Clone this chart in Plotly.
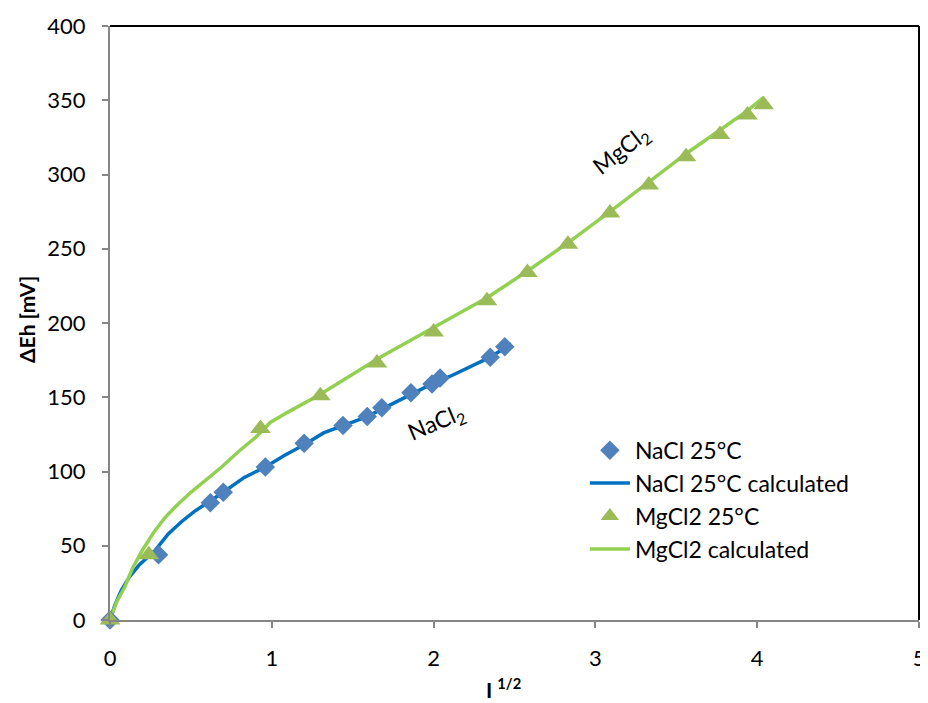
import plotly.graph_objects as go

# Measured data
nacl_x = [0.0, 0.30, 0.62, 0.70, 0.96, 1.20, 1.44, 1.59, 1.68, 1.86, 1.99, 2.04, 2.35, 2.44]
nacl_y = [0.0, 44, 79, 86, 103, 119, 131, 137, 143, 153, 159, 163, 177, 184]

mg_x = [0.0, 0.24, 0.93, 1.30, 1.65, 2.00, 2.33, 2.58, 2.83, 3.09, 3.33, 3.56, 3.77, 3.94, 4.04]
mg_y = [0.0, 44, 129, 151, 173, 194, 215, 234, 253, 274, 293, 312, 327, 340, 347]

# Calculated curves
nacl_calc_x = [0.0, 0.03, 0.07, 0.12, 0.18, 0.28, 0.36, 0.44, 0.52, 0.59, 0.70, 0.83, 0.96, 1.08, 1.20, 1.32, 1.44, 1.59, 1.68, 1.86, 1.99, 2.10, 2.25, 2.35, 2.48]
nacl_calc_y = [0.0, 10, 20, 29, 37, 47, 58, 66, 73, 78, 86, 96, 103, 111, 118, 126, 131, 137, 142, 152, 159, 164, 172, 177, 186]

mg_calc_x = [0.0, 0.04, 0.09, 0.14, 0.20, 0.27, 0.34, 0.42, 0.50, 0.60, 0.69, 0.80, 0.90, 0.99, 1.10, 1.30, 1.45, 1.67, 2.00, 2.33, 2.58, 2.83, 3.09, 3.33, 3.56, 3.77, 3.94, 4.04]
mg_calc_y = [0.0, 12, 22, 35, 47, 59, 69, 78, 86, 95, 103, 114, 123, 133, 140, 152, 162, 177, 197, 217, 235, 254, 275, 295, 314, 330, 343, 352]

x_ticks = [0, 1, 2, 3, 4, 5]
y_ticks = [0, 50, 100, 150, 200, 250, 300, 350, 400]

FONT = "Lato"

fig = go.Figure()

fig.add_trace(go.Scatter(x=nacl_calc_x, y=nacl_calc_y, mode="lines",
                         name="NaCl 25°C calculated", legendrank=2,
                         line=dict(color="#0070C0", width=3.5),
                         cliponaxis=False))
fig.add_trace(go.Scatter(x=mg_calc_x, y=mg_calc_y, mode="lines",
                         name="MgCl2 calculated", legendrank=4,
                         line=dict(color="#92D050", width=3.5),
                         cliponaxis=False))
fig.add_trace(go.Scatter(x=nacl_x, y=nacl_y, mode="markers",
                         name="NaCl 25°C", legendrank=1,
                         marker=dict(symbol="diamond", size=15, color="#4F81BD"),
                         cliponaxis=False))
fig.add_trace(go.Scatter(x=mg_x, y=mg_y, mode="markers",
                         name="MgCl2 25°C", legendrank=3,
                         marker=dict(symbol="triangle-up", size=18, color="#9BBB59"),
                         cliponaxis=False))

# top and right borders
fig.add_shape(type="line", xref="paper", yref="paper", x0=0, x1=1, y0=1, y1=1,
              line=dict(color="black", width=2))
fig.add_shape(type="line", xref="paper", yref="paper", x0=1, x1=1, y0=0, y1=1,
              line=dict(color="black", width=2))

fig.add_annotation(x=3.16, y=316, text="MgCl<sub>2</sub>", showarrow=False,
                   textangle=-38, font=dict(family=FONT, size=23, color="black"))
fig.add_annotation(x=2.02, y=133, text="NaCl<sub>2</sub>", showarrow=False,
                   textangle=-23, font=dict(family=FONT, size=23, color="black"))

# axis titles
fig.add_annotation(xref="paper", yref="paper", x=0, y=0.505, xshift=-84,
                   xanchor="center", yanchor="middle",
                   text="<b>ΔEh [mV]</b>", showarrow=False, textangle=-90,
                   font=dict(family=FONT, size=21, color="black"))
fig.add_annotation(xref="paper", yref="paper", x=0.487, y=0, yshift=-68,
                   xanchor="center", yanchor="middle",
                   text="<b>I <sup>1/2</sup></b>", showarrow=False,
                   font=dict(family=FONT, size=21, color="black"))

# page body has an 8px margin; margins are set so that the plot lands in place
fig.update_layout(
    width=928, height=703,
    margin=dict(l=102, r=17, t=18, b=91),
    plot_bgcolor="white", paper_bgcolor="white",
    font=dict(family=FONT, size=22, color="black"),
    showlegend=True,
    legend=dict(x=0.587, y=0.322, xanchor="left", yanchor="top",
                bgcolor="rgba(0,0,0,0)", font=dict(family=FONT, size=23),
                tracegroupgap=0, itemwidth=40),
    xaxis=dict(range=[0, 5], tickvals=x_ticks, showgrid=False, zeroline=False,
               showline=True, linecolor="#868686", linewidth=2, automargin=False,
               ticks="outside", ticklen=6, tickcolor="#868686", tickwidth=1.5,
               ticklabelstandoff=12,
               tickfont=dict(family=FONT, size=22)),
    yaxis=dict(range=[0, 400], tickvals=y_ticks, showgrid=False, zeroline=False,
               showline=True, linecolor="#868686", linewidth=2, automargin=False,
               ticks="outside", ticklen=6, tickcolor="#868686", tickwidth=1.5,
               ticklabelstandoff=12,
               tickfont=dict(family=FONT, size=22)),
)

fig.write_html("out.html")
